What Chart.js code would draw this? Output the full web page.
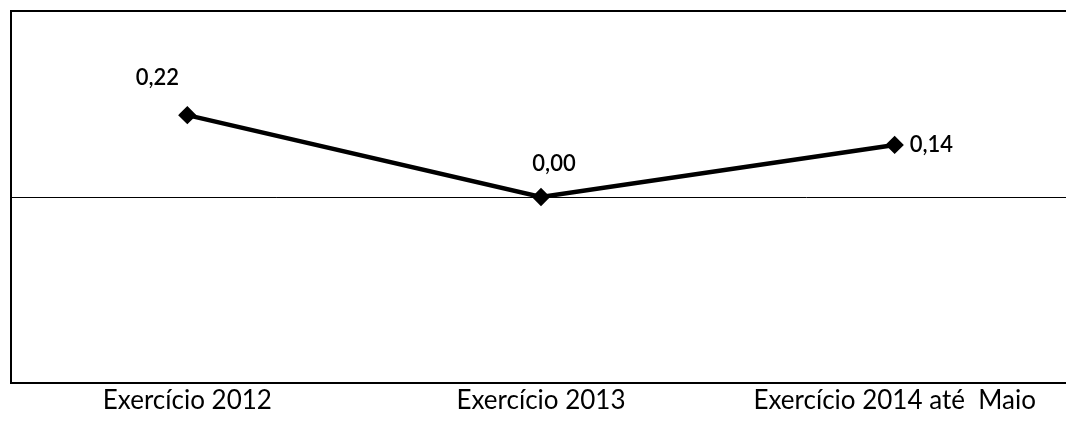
<!DOCTYPE html>
<html>
<head>
<meta charset="utf-8">
<script src="https://cdn.jsdelivr.net/npm/chart.js@4/dist/chart.umd.min.js"></script>
<style>
  html, body { margin: 0; padding: 0; background: #fff; overflow: hidden; }
  #wrap { width: 1066px; height: 437px; overflow: hidden; position: relative; }
  #chart { display: block; }
</style>
</head>
<body>
<div id="wrap"><canvas id="chart" width="1082" height="437"></canvas></div>
<script>
const categories = ['Exercício 2012', 'Exercício 2013', 'Exercício 2014 até  Maio'];
const values = [0.22, 0.00, 0.14];
const valueLabels = ['0,22', '0,00', '0,14'];

// where each value label sits relative to its point
const labelOffsets = [
    { dx: -30, dy: -37, align: 'center' },
    { dx: 13, dy: -33, align: 'center' },
    { dx: 15, dy: 0, align: 'left' }
];

const valueLabelPlugin = {
    id: 'valueLabels',
    afterDatasetsDraw(chart) {
        const ctx = chart.ctx;
        const meta = chart.getDatasetMeta(0);
        ctx.save();
        ctx.fillStyle = '#000';
        ctx.font = '600 22px Lato';
        ctx.textBaseline = 'middle';
        meta.data.forEach((pt, i) => {
            const o = labelOffsets[i];
            ctx.textAlign = o.align;
            ctx.fillText(valueLabels[i], pt.x + o.dx, pt.y + o.dy);
        });
        ctx.restore();
    }
};

new Chart(document.getElementById('chart'), {
    type: 'line',
    data: {
        labels: categories,
        datasets: [{
            data: values,
            borderColor: '#000',
            backgroundColor: '#000',
            borderWidth: 4.5,
            pointStyle: 'rectRot',
            pointRadius: 6,
            pointBackgroundColor: '#000',
            pointBorderColor: '#000',
            tension: 0
        }]
    },
    options: {
        responsive: false,
        animation: false,
        layout: { padding: { left: 7, top: 11, right: 0, bottom: 0 } },
        plugins: {
            legend: { display: false },
            tooltip: { enabled: false }
        },
        scales: {
            x: {
                offset: true,
                afterFit: s => { s.height = 54; },
                grid: { display: false },
                border: { display: true, color: '#000', width: 2 },
                ticks: {
                    color: '#000',
                    font: { family: 'Lato', size: 26 },
                    padding: -6,
                    maxRotation: 0
                }
            },
            y: {
                min: -0.5,
                max: 0.5,
                afterFit: s => { s.width = 0; },
                ticks: { display: false, stepSize: 0.5 },
                border: { display: true, color: '#000', width: 2 },
                grid: {
                    drawTicks: false,
                    color: '#000',
                    lineWidth: c => c.tick && c.tick.value === 0 ? 1 : (c.tick && c.tick.value === 0.5 ? 2 : 0)
                }
            }
        }
    },
    plugins: [valueLabelPlugin]
});
</script>
</body>
</html>
